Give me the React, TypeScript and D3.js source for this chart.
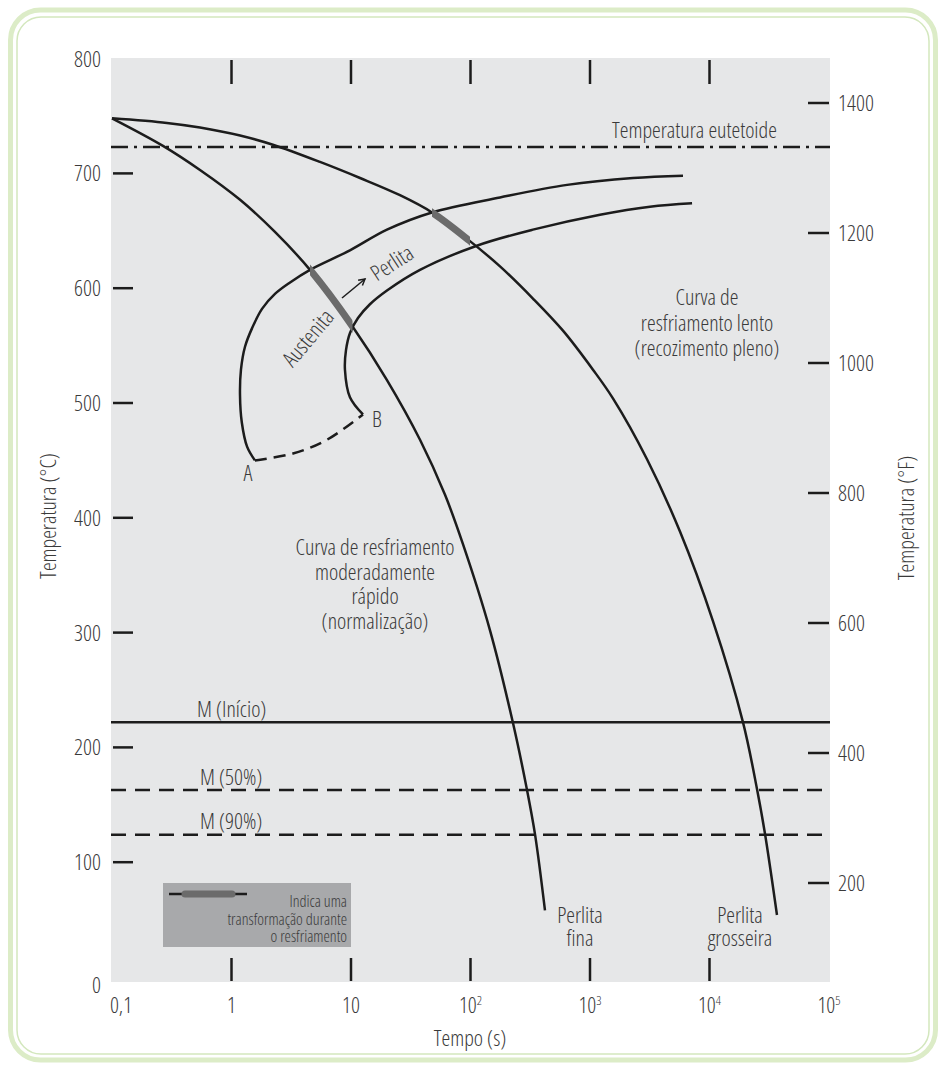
import React from "react";
import * as d3 from "d3";

// ---- axis ticks ----
const timeTicks = [0.1, 1, 10, 100, 1000, 10000, 100000];
const timeTickBase = ["0,1", "1", "10", "10", "10", "10", "10"];
const timeTickExp = ["", "", "", "2", "3", "4", "5"];
const innerTimeTicks = [1, 10, 100, 1000, 10000];
const celsiusTicks = [0, 100, 200, 300, 400, 500, 600, 700, 800];
const celsiusTickMarks = [100, 200, 300, 400, 500, 600, 700];
const fahrenheitTicks = [200, 400, 600, 800, 1000, 1200, 1400];

// ---- curves: [time (s), temperature (°C)] ----
const fineCurve: [number, number][] = [
  [0.1, 748], [0.267, 724], [0.545, 703], [1.18, 677], [2.31, 649], [4.54, 616],
  [10.4, 566], [20, 520], [37.8, 468], [61.2, 420], [86.5, 377], [145.6, 302],
  [227, 221], [297, 163], [347, 124], [420, 58],
];
const coarseCurve: [number, number][] = [
  [0.1, 748], [0.288, 744], [0.545, 740], [1.18, 733], [2.22, 725], [5.5, 710],
  [11.9, 696], [25.7, 681], [47.6, 666], [99, 641], [176.6, 619], [333, 591],
  [594, 563], [1059, 529], [1556, 504], [3000, 451], [5662, 388], [10690, 310],
  [19050, 222], [24950, 164], [29110, 125], [36700, 54],
];
const startCurve: [number, number][] = [
  [1.57, 450], [1.35, 462], [1.22, 483], [1.178, 507], [1.2, 529], [1.297, 549],
  [1.484, 565], [1.8, 582], [2.31, 595], [3.09, 605], [4.54, 616], [9.8, 633],
  [20, 651], [47.6, 666], [176.6, 679], [643, 690], [2291, 696], [6000, 698],
];
const finishCurve: [number, number][] = [
  [12.6, 490], [9.8, 505], [8.9, 529], [9.08, 546], [9.81, 561], [11.44, 574],
  [14.4, 586], [20, 598], [37.8, 616], [113, 637], [333, 651], [1213, 664],
  [3177, 671], [7145, 674],
];
const abDashed: [number, number][] = [[1.57, 450], [3.27, 456], [6.3, 468], [12.6, 490]];

// transformation windows (time range on the cooling curves)
const fineTransform = [4.54, 10.3];
const coarseTransform = [47.6, 99];

// horizontal reference lines (°C)
const eutectoidT = 723;
const mStartT = 222;
const m50T = 163;
const m90T = 124;

// multi-line labels
const slowLabel = ["Curva de", "resfriamento lento", "(recozimento pleno)"];
const normLabel = ["Curva de resfriamento", "moderadamente", "rápido", "(normalização)"];
const fineLabel = ["Perlita", "fina"];
const coarseLabel = ["Perlita", "grosseira"];
const legendLabel = ["Indica uma", "transformação durante", "o resfriamento"];

const FONT = "'Open Sans', 'Noto Sans', sans-serif";
const TXT = "#3a3a3a";
const INK = "#1c1c1c";
const FS = 22;

function Multi({ lines, x, y, lh, anchor = "middle", size }: { lines: string[]; x: number; y: number; lh: number; anchor?: string; size?: number }) {
  return (
    <text x={x} y={y} textAnchor={anchor} fontSize={size}>
      {lines.map((l, i) => (
        <tspan key={i} x={x} dy={i === 0 ? 0 : lh}>
          {l}
        </tspan>
      ))}
    </text>
  );
}

export default function App() {
  const x = d3.scaleLog().domain([0.1, 1e5]).range([112, 829]);
  const y = d3.scaleLinear().domain([0, 800]).range([977, 58.6]);
  const yF = d3.scaleLinear().domain([200, 1400]).range([883, 103]);
  const line = d3
    .line<[number, number]>()
    .x((d) => x(d[0]))
    .y((d) => y(d[1]))
    .curve(d3.curveCatmullRom.alpha(0.5));

  const plot = { x0: 111, x1: 830, y0: 58, y1: 982 };

  const textBase = { fontFamily: FONT, fill: TXT, fontStretch: "condensed" as const, fontWeight: 300 };

  // arrow between Austenita and Perlita
  const ax0 = 342, ay0 = 298, ax1 = 365, ay1 = 279;
  const ang = Math.atan2(ay1 - ay0, ax1 - ax0);
  const ah = 7;
  const head = `M${ax1 - ah * Math.cos(ang - 0.5)},${ay1 - ah * Math.sin(ang - 0.5)}L${ax1},${ay1}L${ax1 - ah * Math.cos(ang + 0.5)},${ay1 - ah * Math.sin(ang + 0.5)}`;

  return (
    <svg
      width={940}
      height={1067}
      style={{ position: "absolute", left: 0, top: 0, background: "#fff" }}
    >
      <defs>
        <clipPath id="clipFine">
          <rect x={x(fineTransform[0])} y={0} width={x(fineTransform[1]) - x(fineTransform[0])} height={1067} />
        </clipPath>
        <clipPath id="clipCoarse">
          <rect x={x(coarseTransform[0])} y={0} width={x(coarseTransform[1]) - x(coarseTransform[0])} height={1067} />
        </clipPath>
      </defs>

      {/* frame */}
      <rect x={10.5} y={10} width={925} height={1050} rx={30} fill="none" stroke="#dcecc7" strokeWidth={5} />
      <rect x={17} y={17} width={912} height={1037} rx={24} fill="none" stroke="#d3e7bd" strokeWidth={1.5} />

      {/* plot background */}
      <rect x={plot.x0} y={plot.y0} width={plot.x1 - plot.x0} height={plot.y1 - plot.y0} fill="#e6e7e8" />

      {/* inner x ticks top & bottom */}
      {innerTimeTicks.map((t) => (
        <g key={"xt" + t}>
          <line x1={x(t)} x2={x(t)} y1={60} y2={84} stroke={INK} strokeWidth={2.5} />
          <line x1={x(t)} x2={x(t)} y1={958} y2={981} stroke={INK} strokeWidth={2.5} />
        </g>
      ))}
      {/* left ticks */}
      {celsiusTickMarks.map((c) => (
        <line key={"yt" + c} x1={113} x2={133} y1={y(c)} y2={y(c)} stroke={INK} strokeWidth={2.5} />
      ))}
      {/* right ticks */}
      {fahrenheitTicks.map((f) => (
        <line key={"yf" + f} x1={808} x2={829} y1={yF(f)} y2={yF(f)} stroke={INK} strokeWidth={2.5} />
      ))}

      {/* horizontal reference lines */}
      <line x1={plot.x0} x2={plot.x1} y1={y(eutectoidT)} y2={y(eutectoidT)} stroke={INK} strokeWidth={2.5} strokeDasharray="17 6 3 6" />
      <line x1={plot.x0} x2={plot.x1} y1={y(mStartT)} y2={y(mStartT)} stroke={INK} strokeWidth={2.5} />
      <line x1={plot.x0} x2={plot.x1} y1={y(m50T)} y2={y(m50T)} stroke={INK} strokeWidth={2.5} strokeDasharray="15 9" />
      <line x1={plot.x0} x2={plot.x1} y1={y(m90T)} y2={y(m90T)} stroke={INK} strokeWidth={2.5} strokeDasharray="15 9" />

      {/* TTT curves */}
      <path d={line(startCurve) || ""} fill="none" stroke={INK} strokeWidth={2.5} />
      <path d={line(finishCurve) || ""} fill="none" stroke={INK} strokeWidth={2.5} />
      <path d={line(abDashed) || ""} fill="none" stroke={INK} strokeWidth={2.5} strokeDasharray="12 7" />

      {/* cooling curves */}
      <path d={line(fineCurve) || ""} fill="none" stroke={INK} strokeWidth={2.5} />
      <path d={line(coarseCurve) || ""} fill="none" stroke={INK} strokeWidth={2.5} />
      <path d={line(fineCurve) || ""} fill="none" stroke="#6b6b6b" strokeWidth={7} clipPath="url(#clipFine)" />
      <path d={line(coarseCurve) || ""} fill="none" stroke="#6b6b6b" strokeWidth={7} clipPath="url(#clipCoarse)" />

      {/* arrow */}
      <line x1={ax0} y1={ay0} x2={ax1} y2={ay1} stroke={INK} strokeWidth={1.5} />
      <path d={head} fill="none" stroke={INK} strokeWidth={1.5} />

      {/* legend */}
      <rect x={163} y={883} width={188} height={64} fill="#a8a9ab" />
      <line x1={169} x2={247} y1={894} y2={894} stroke={INK} strokeWidth={2.5} />
      <line x1={185} x2={232} y1={894} y2={894} stroke="#6b6b6b" strokeWidth={7} strokeLinecap="round" />
      <g {...textBase}>
        <Multi lines={legendLabel} x={347} y={907} lh={17.5} anchor="end" size={16} />
      </g>

      {/* x tick labels */}
      <g {...textBase} fontSize={FS} textAnchor="middle">
        {timeTicks.map((t, i) => (
          <text key={"xl" + t} x={x(t) + (i === 0 ? 9 : 0)} y={1013}>
            {timeTickBase[i]}
            {timeTickExp[i] && (
              <tspan fontSize={13} dy={-8}>{timeTickExp[i]}</tspan>
            )}
          </text>
        ))}
      </g>
      {/* y left labels */}
      <g {...textBase} fontSize={FS} textAnchor="end">
        {celsiusTicks.map((c) => (
          <text key={"yl" + c} x={101} y={y(c) + (c === 0 ? 8 : 0)} dy="0.36em">
            {c}
          </text>
        ))}
      </g>
      {/* y right labels */}
      <g {...textBase} fontSize={FS} textAnchor="start">
        {fahrenheitTicks.map((f) => (
          <text key={"yr" + f} x={838} y={yF(f)} dy="0.36em">
            {f}
          </text>
        ))}
      </g>

      {/* axis titles */}
      <g {...textBase} fontSize={FS} textAnchor="middle">
        <text x={470} y={1046}>Tempo (s)</text>
        <text transform="translate(56,516) rotate(-90)">Temperatura (°C)</text>
        <text transform="translate(914,518) rotate(-90)">Temperatura (°F)</text>
      </g>

      {/* annotations */}
      <g {...textBase} fontSize={FS}>
        <text x={612} y={138}>Temperatura eutetoide</text>
        <text x={197} y={717}>M (Início)</text>
        <text x={200} y={785}>M (50%)</text>
        <text x={200} y={829}>M (90%)</text>
        <text x={248} y={481} textAnchor="middle">A</text>
        <text x={377} y={427} textAnchor="middle">B</text>
        <text transform="translate(308,338) rotate(-50)" textAnchor="middle" dy="0.35em">Austenita</text>
        <text transform="translate(392,263) rotate(-33)" textAnchor="middle" dy="0.35em">Perlita</text>
        <Multi lines={slowLabel} x={707} y={305} lh={25.5} />
        <Multi lines={normLabel} x={375} y={555} lh={24.7} />
        <Multi lines={fineLabel} x={580} y={923} lh={23} />
        <Multi lines={coarseLabel} x={740} y={923} lh={23} />
      </g>
    </svg>
  );
}
